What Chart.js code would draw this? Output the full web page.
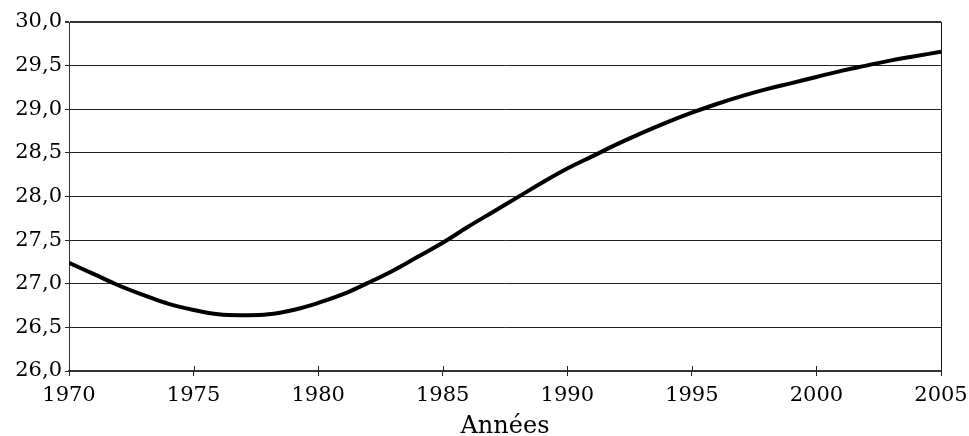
<!DOCTYPE html>
<html>
<head>
<meta charset="utf-8">
<script src="https://cdn.jsdelivr.net/npm/chart.js@4/dist/chart.umd.min.js"></script>
<style>
html,body{margin:0;padding:0;background:#fff;}
#wrap{width:969px;height:436px;}
</style>
</head>
<body>
<div id="wrap"><canvas id="c" width="969" height="436"></canvas></div>
<script>
const years = [1970,1971,1972,1973,1974,1975,1976,1977,1978,1979,1980,1981,1982,1983,1984,1985,1986,1987,1988,1989,1990,1991,1992,1993,1994,1995,1996,1997,1998,1999,2000,2001,2002,2003,2004,2005];
const values = [27.24,27.11,26.98,26.87,26.77,26.70,26.65,26.64,26.65,26.70,26.78,26.88,27.01,27.15,27.31,27.47,27.65,27.82,27.99,28.16,28.32,28.46,28.60,28.73,28.85,28.96,29.06,29.15,29.23,29.30,29.37,29.44,29.50,29.56,29.61,29.66];
const xTitle = 'Années';
const yMin = 26, yMax = 30, yStep = 0.5;
const xMin = 1970, xMax = 2005, xStep = 5;

const FONT = 'DejaVu Serif';

const framePlugin = {
  id: 'frame',
  afterDraw(chart) {
    const ctx = chart.ctx, a = chart.chartArea, xs = chart.scales.x;
    ctx.save();
    ctx.strokeStyle = '#111';
    ctx.lineWidth = 1;
    ctx.beginPath();
    ctx.moveTo(Math.round(a.right) + 0.5, a.top);
    ctx.lineTo(Math.round(a.right) + 0.5, a.bottom);
    ctx.stroke();
    ctx.strokeStyle = '#222';
    xs.ticks.forEach(t => {
      const px = Math.round(xs.getPixelForValue(t.value)) + 0.5;
      ctx.beginPath();
      ctx.moveTo(px, a.bottom - 5);
      ctx.lineTo(px, a.bottom);
      ctx.stroke();
    });
    ctx.restore();
  }
};

new Chart(document.getElementById('c'), {
  type: 'line',
  data: {
    datasets: [{
      data: years.map((y, i) => ({x: y, y: values[i]})),
      borderColor: '#000',
      borderWidth: 4,
      pointRadius: 0,
      tension: 0.4,
      fill: false
    }]
  },
  options: {
    responsive: false,
    animation: false,
    devicePixelRatio: 1,
    layout: {padding: {top: 22, right: 28, left: 0, bottom: 0}},
    plugins: {legend: {display: false}, tooltip: {enabled: false}},
    scales: {
      x: {
        type: 'linear',
        min: xMin, max: xMax,
        afterFit(s) { s.height = 65; s.paddingRight = 0; s.paddingLeft = 0; },
        ticks: {
          stepSize: xStep,
          color: '#000',
          padding: 7,
          maxRotation: 0,
          font: {family: FONT, size: 21},
          callback: v => String(v)
        },
        grid: {drawOnChartArea: false, tickLength: 5, color: '#222', lineWidth: 1},
        border: {display: true, color: '#333', width: 2},
        title: {
          display: true,
          text: xTitle,
          color: '#000',
          font: {family: FONT, size: 24},
          padding: {top: 0, bottom: -5}
        }
      },
      y: {
        min: yMin, max: yMax,
        afterFit(s) { s.width = 69; },
        ticks: {
          stepSize: yStep,
          color: '#000',
          padding: 3,
          font: {family: FONT, size: 21},
          callback: v => Number(v).toFixed(1).replace('.', ',')
        },
        grid: {
          tickLength: 4,
          color: ctx => (ctx.tick && ctx.tick.value === yMax) ? '#333' : '#222',
          lineWidth: ctx => (ctx.tick && ctx.tick.value === yMax) ? 2 : 1
        },
        border: {display: true, color: '#333', width: 1}
      }
    }
  },
  plugins: [framePlugin]
});
</script>
</body>
</html>
